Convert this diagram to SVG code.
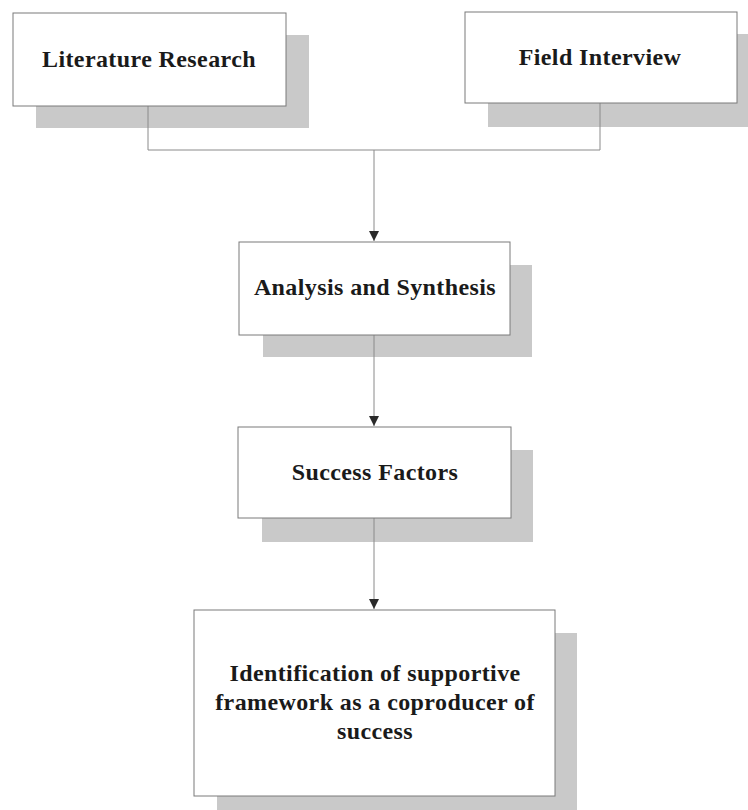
<svg xmlns="http://www.w3.org/2000/svg" width="748" height="810" viewBox="0 0 748 810">
<style>
.shadow{fill:#c9c9c9}
.box{fill:#ffffff;stroke:#7a7a7a;stroke-width:1}
.lbl{font-family:"Liberation Serif","Times New Roman",serif;font-weight:bold;font-size:24px;letter-spacing:0.4px;fill:#1a1a1a;text-anchor:middle}
.conn{fill:none;stroke:#8a8a8a;stroke-width:1}
</style>
<defs>
<marker id="arr" viewBox="0 0 10 10" refX="10" refY="5" markerWidth="10" markerHeight="10" markerUnits="userSpaceOnUse" orient="auto">
<path d="M0,0 L10,5 L0,10 Z" fill="#2a2a2a"/>
</marker>
</defs>
<rect width="748" height="810" fill="#ffffff"/>
<g id="shadows">
<rect class="shadow" x="36" y="35" width="273" height="93"/>
<rect class="shadow" x="488" y="34" width="260" height="93"/>
<rect class="shadow" x="263" y="265" width="269" height="92"/>
<rect class="shadow" x="262" y="450" width="271" height="92"/>
<rect class="shadow" x="217" y="633" width="360" height="177"/>
</g>
<g id="connectors">
<path class="conn" d="M148,106 V150 H600 V103"/>
<path class="conn" d="M374,150 V241" marker-end="url(#arr)"/>
<path class="conn" d="M374,335 V426" marker-end="url(#arr)"/>
<path class="conn" d="M374,518 V609" marker-end="url(#arr)"/>
</g>
<g id="literature">
<rect class="box" x="13" y="13" width="273" height="93"/>
<text class="lbl" x="149" y="67">Literature Research</text>
</g>
<g id="field">
<rect class="box" x="465" y="12" width="272" height="91"/>
<text class="lbl" x="600" y="65">Field Interview</text>
</g>
<g id="analysis">
<rect class="box" x="239" y="242" width="271" height="93"/>
<text class="lbl" x="375" y="295">Analysis and Synthesis</text>
</g>
<g id="success">
<rect class="box" x="238" y="427" width="273" height="91"/>
<text class="lbl" x="375" y="480">Success Factors</text>
</g>
<g id="identification">
<rect class="box" x="194" y="610" width="361" height="186"/>
<text class="lbl" x="375" y="681">Identification of supportive</text>
<text class="lbl" x="375" y="710">framework as a coproducer of</text>
<text class="lbl" x="375" y="739">success</text>
</g>
</svg>
